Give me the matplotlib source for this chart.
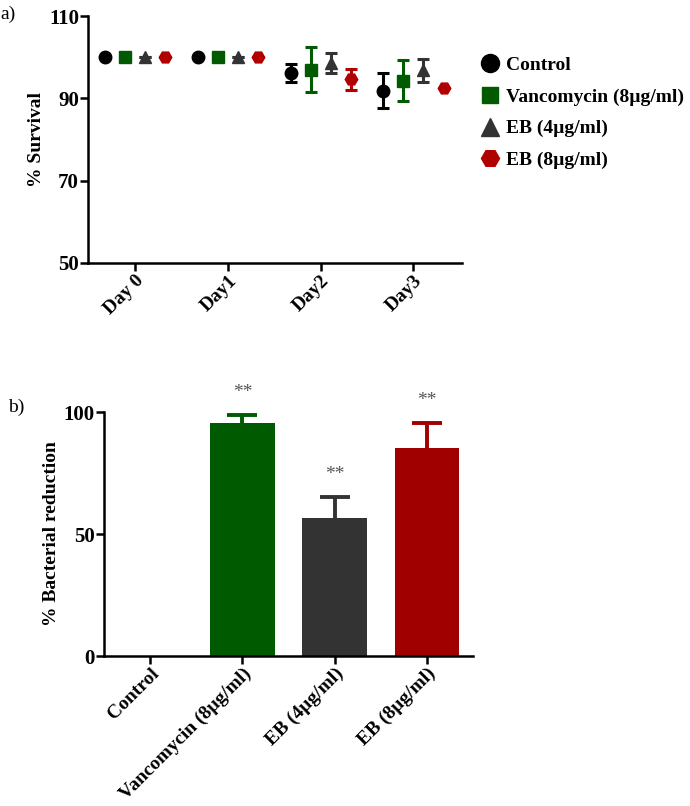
import matplotlib
matplotlib.use("Agg")
import matplotlib.pyplot as plt
import numpy as np

plt.rcParams['font.family'] = ['Liberation Serif', 'DejaVu Serif']

# ---- Panel a data ----
days = ["Day 0", "Day1", "Day2", "Day3"]
groups = ["Control", "Vancomycin (8µg/ml)", "EB (4µg/ml)", "EB (8µg/ml)"]
surv_control = [100, 100, 96.2, 91.9]
surv_control_err = [0, 0, 2.2, 4.2]
surv_vanc = [100, 100, 97.0, 94.3]
surv_vanc_err = [0, 0, 5.4, 5.0]
surv_eb4 = [100, 100, 98.5, 96.8]
surv_eb4_err = [0, 0, 2.4, 2.8]
surv_eb8 = [100, 100, 94.6, 92.4]
surv_eb8_err = [0, 0, 2.6, 0]

# ---- Panel b data ----
bar_labels = ["Control", "Vancomycin (8µg/ml)", "EB (4µg/ml)", "EB (8µg/ml)"]
reduction = [0, 95.6, 56.4, 85.1]
reduction_err = [0, 3.0, 8.6, 10.2]
signif = ["", "**", "**", "**"]

marker_colors = ["#000000", "#005a00", "#333333", "#b00000"]
bar_colors = ["#ffffff", "#005a00", "#333333", "#a00000"]
markers = ["o", "s", "^", "H"]
msizes = [9, 8, 9, 9]
leg_msizes = [13, 12, 12.5, 13]

TICK_FS = 15
LAB_FS = 14
XT_FS = 14

fig = plt.figure(figsize=(6.9, 8.06), dpi=100)

# ===== Panel a =====
axa = fig.add_axes([0.1275, 0.6737, 0.669 - 0.1275, 0.9801 - 0.6737])
x = np.arange(len(days))
offsets = [-0.325, -0.108, 0.108, 0.325]
series = [(surv_control, surv_control_err), (surv_vanc, surv_vanc_err),
          (surv_eb4, surv_eb4_err), (surv_eb8, surv_eb8_err)]
for i, (vals, errs) in enumerate(series):
    axa.errorbar(x + offsets[i], vals, yerr=errs, fmt=markers[i],
                 color=marker_colors[i], markersize=msizes[i],
                 elinewidth=2.2, capsize=4.5, capthick=2.2, ecolor=marker_colors[i],
                 label=groups[i], clip_on=False, zorder=3)
axa.set_xlim(-0.51, 3.52)
axa.set_ylim(50, 110)
axa.set_yticks([50, 70, 90, 110])
axa.set_xticks(x)
axa.set_xticklabels(days, rotation=45, ha='right', rotation_mode='anchor',
                    fontweight='bold', fontsize=XT_FS)
for lab in axa.get_yticklabels():
    lab.set_fontweight('bold')
    lab.set_fontsize(TICK_FS)
axa.set_ylabel("% Survival", fontweight='bold', fontsize=LAB_FS, labelpad=3)
for s in ['top', 'right']:
    axa.spines[s].set_visible(False)
for s in ['left', 'bottom']:
    axa.spines[s].set_linewidth(1.8)
axa.tick_params(width=1.8, length=6, direction='out', pad=0.5)

leg_handles = [plt.Line2D([], [], linestyle='none', marker=markers[i],
                          color=marker_colors[i], markersize=leg_msizes[i])
               for i in range(4)]
fig.legend(leg_handles, groups, loc='upper left', bbox_to_anchor=(0.693, 0.930),
           frameon=False, prop={'weight': 'bold', 'size': 14},
           handletextpad=0.25, labelspacing=0.72, handlelength=1.2,
           borderaxespad=0, borderpad=0)

fig.text(0.0, 0.993, "a)", fontsize=14, va='top', ha='left')

# ===== Panel b =====
axb = fig.add_axes([0.1507, 0.1861, 0.6855 - 0.1507, 0.4888 - 0.1861])
xb = np.arange(len(bar_labels))
axb.bar(xb, reduction, width=0.7, color=bar_colors, zorder=2)
for i in range(len(xb)):
    if reduction_err[i] > 0:
        eb = axb.errorbar(xb[i], reduction[i], yerr=[[0], [reduction_err[i]]],
                          fmt='none', ecolor=bar_colors[i], elinewidth=2.8,
                          capsize=11, capthick=2.8, clip_on=False, zorder=1)
        for cap in eb[1]:
            if np.isclose(cap.get_ydata()[0], reduction[i]):
                cap.set_visible(False)
    if signif[i]:
        axb.text(xb[i], reduction[i] + reduction_err[i] + 9.3, signif[i],
                 ha='center', va='center', fontsize=14, color='#555555',
                 clip_on=False)
axb.set_xlim(-0.5, 3.5)
axb.set_ylim(0, 100)
axb.set_yticks([0, 50, 100])
axb.set_xticks(xb)
axb.set_xticklabels(bar_labels, rotation=45, ha='right', rotation_mode='anchor',
                    fontweight='bold', fontsize=XT_FS)
for lab in axb.get_yticklabels():
    lab.set_fontweight('bold')
    lab.set_fontsize(TICK_FS)
axb.set_ylabel("% Bacterial reduction", fontweight='bold', fontsize=LAB_FS, labelpad=3)
for s in ['top', 'right']:
    axb.spines[s].set_visible(False)
for s in ['left', 'bottom']:
    axb.spines[s].set_linewidth(1.8)
    axb.spines[s].set_zorder(3)
axb.tick_params(width=1.8, length=6, direction='out', pad=0.5)

fig.text(0.012, 0.505, "b)", fontsize=14, va='top', ha='left')

fig.savefig("out.png", dpi=100)
